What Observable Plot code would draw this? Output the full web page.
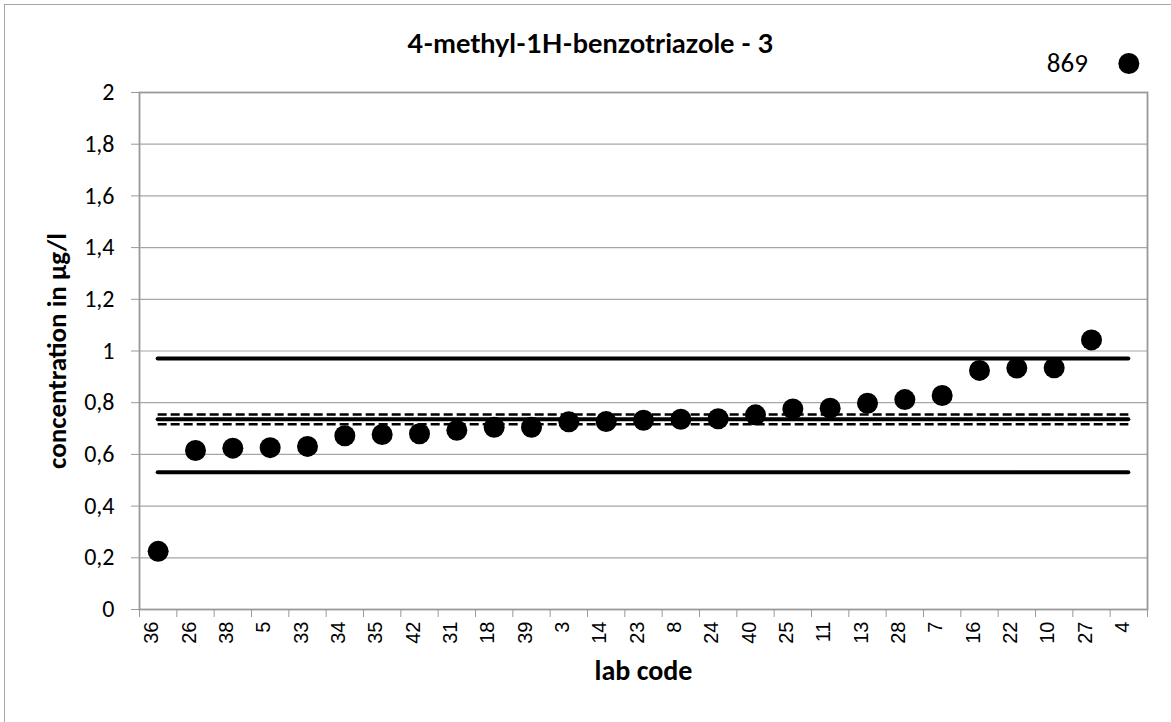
<!DOCTYPE html>
<html>
<head>
<meta charset="utf-8">
<script src="https://cdn.jsdelivr.net/npm/d3@7"></script>
<script src="https://cdn.jsdelivr.net/npm/@observablehq/plot@0.6"></script>
<style>
  body { margin: 0; background: #fff; }
  #wrap { position: relative; width: 1171px; height: 722px; overflow: hidden; background: #fff; }
  #frame { position: absolute; left: 4px; top: 4px; width: 1200px; height: 760px; border: 1px solid #a6a6a6; box-sizing: border-box; pointer-events: none; }
  #title { position: absolute; left: 0; width: 1181px; top: 29px; text-align: center; font: bold 27px Lato, "Open Sans", sans-serif; color: #000; line-height: 1; }
  #chart { position: absolute; left: 0; top: 0; }
</style>
</head>
<body>
<div id="wrap">
  <div id="chart"></div>
  <div id="title">4-methyl-1H-benzotriazole - 3</div>
  <div id="frame"></div>
</div>
<script>
// ---- data ----
const labCodes = ["36","26","38","5","33","34","35","42","31","18","39","3","14","23","8","24","40","25","11","13","28","7","16","22","10","27","4"];
const concentrations = [0.225,0.615,0.624,0.626,0.631,0.672,0.677,0.680,0.693,0.705,0.705,0.726,0.727,0.732,0.736,0.738,0.753,0.776,0.779,0.798,0.812,0.828,0.925,0.934,0.935,1.043,869];
const yTicks = [0,0.2,0.4,0.6,0.8,1,1.2,1.4,1.6,1.8,2];
const assignedValue = 0.736;
const upperLimit = 0.971;
const lowerLimit = 0.531;
const uncertaintyHigh = 0.754;
const uncertaintyLow = 0.717;
const yMax = 2;

// ---- build ----
const n = labCodes.length;
const rows = labCodes.map((code, i) => ({code, i, value: concentrations[i]}));
const inRange = rows.filter(d => d.value <= yMax);
const outliers = rows.filter(d => d.value > yMax);
const overflowY = yMax * 1.056; // Excel-style marker drawn just above the plot for off-scale values
const center = d => d.i + 0.5;
const fmt = v => String(v).replace(".", ",");
const calibri = "Carlito, Lato, 'Open Sans', sans-serif";
const arial = "'Liberation Sans', Arial, sans-serif";

const solid = {stroke: "#000", strokeWidth: 4, strokeLinecap: "round", x1: 0.5, x2: n - 0.5};
const dashed = {stroke: "#000", strokeWidth: 2.5, strokeDasharray: "9,4", x1: 0.5, x2: n - 0.5};

const chart = Plot.plot({
  width: 1171,
  height: 722,
  marginLeft: 139,
  marginRight: 24,
  marginTop: 92,
  marginBottom: 113,
  style: {background: "transparent", overflow: "visible", fontFamily: calibri, color: "#000"},
  x: {type: "linear", domain: [0, n]},
  y: {type: "linear", domain: [0, yMax]},
  marks: [
    Plot.gridY(yTicks, {stroke: "#a6a6a6", strokeOpacity: 1, strokeWidth: 1.2}),
    Plot.frame({stroke: "#999", strokeWidth: 1.8}),
    Plot.axisY(yTicks, {tickSize: 8, tickFormat: () => "", stroke: "#999", label: null}),
    Plot.axisX(d3.range(n + 1), {tickSize: 8, tickFormat: () => "", stroke: "#999", label: null}),
    Plot.text(yTicks, {y: d => d, text: fmt, frameAnchor: "left", textAnchor: "end", dx: -25, fontSize: 24, fill: "#000", fontFamily: calibri}),
    Plot.text(rows, {x: center, text: "code", frameAnchor: "bottom", rotate: -90, textAnchor: "end", dy: 12, fontSize: 20, fill: "#000", fontFamily: arial}),
    Plot.ruleY([upperLimit], solid),
    Plot.ruleY([lowerLimit], solid),
    Plot.ruleY([assignedValue], solid),
    Plot.ruleY([uncertaintyHigh], dashed),
    Plot.ruleY([uncertaintyLow], dashed),
    Plot.dot(inRange, {x: center, y: "value", r: 10.5, fill: "#000", stroke: null}),
    Plot.dot(outliers, {x: center, y: () => overflowY, r: 10.5, fill: "#000", stroke: null}),
    Plot.text(outliers, {x: center, y: () => overflowY, text: d => String(d.value), dx: -41, textAnchor: "end", fontSize: 27, fill: "#000", fontFamily: calibri}),
    Plot.text(["concentration in µg/l"], {frameAnchor: "left", textAnchor: "middle", dx: -82, rotate: -90, fontSize: 27, fontWeight: "bold", fill: "#000", fontFamily: calibri}),
    Plot.text(["lab code"], {frameAnchor: "bottom", textAnchor: "middle", dy: 70, fontSize: 28, fontWeight: "bold", fill: "#000", fontFamily: calibri})
  ]
});
document.getElementById("chart").appendChild(chart);
</script>
</body>
</html>
